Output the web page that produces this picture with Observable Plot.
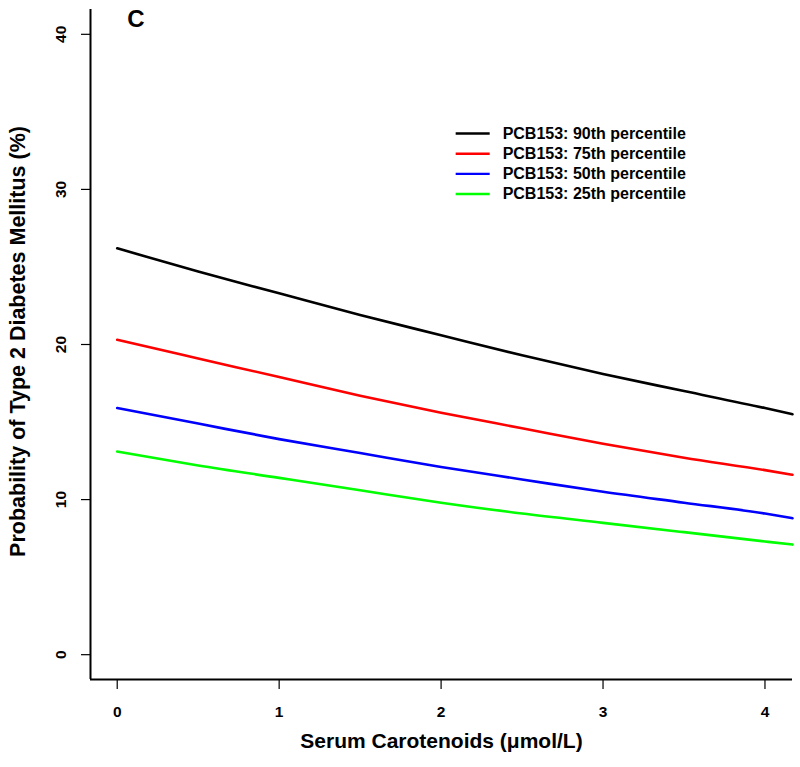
<!DOCTYPE html>
<html>
<head>
<meta charset="utf-8">
<script src="https://cdn.jsdelivr.net/npm/d3@7"></script>
<script src="https://cdn.jsdelivr.net/npm/@observablehq/plot@0.6"></script>
<style>
  html, body { margin: 0; padding: 0; background: #fff; }
  #chart { width: 800px; height: 767px; }
</style>
</head>
<body>
<div id="chart"></div>
<script>
// ---- Data ----
const carotenoids = [0, 0.5, 1, 1.5, 2, 2.5, 3, 3.5, 4, 4.17];
const p90 = [26.2, 24.7, 23.3, 21.9, 20.6, 19.3, 18.1, 17.0, 15.9, 15.5];
const p75 = [20.3, 19.1, 17.9, 16.7, 15.6, 14.6, 13.6, 12.7, 11.9, 11.6];
const p50 = [15.9, 14.9, 13.9, 13.0, 12.1, 11.3, 10.5, 9.8, 9.1, 8.8];
const p25 = [13.1, 12.2, 11.4, 10.6, 9.8, 9.1, 8.5, 7.9, 7.3, 7.1];
const seriesNames = ["PCB153: 90th percentile", "PCB153: 75th percentile", "PCB153: 50th percentile", "PCB153: 25th percentile"];
const seriesColors = ["#000000", "#ff0000", "#0000ff", "#00ff00"];
const xTicks = [0, 1, 2, 3, 4];
const yTicks = [0, 10, 20, 30, 40];
const panelLabel = "C";
const xTitle = "Serum Carotenoids (\u03bcmol/L)";
const yTitle = "Probability of Type 2 Diabetes Mellitus (%)";
// legend placement in data coordinates (as R's legend(x, y))
const legendLineX = [2.09, 2.30];
const legendTextX = 2.38;
const legendY = [33.6, 32.3, 31.0, 29.7];

// ---- Build tables ----
const allSeries = [p90, p75, p50, p25];
const rows = [];
allSeries.forEach((vals, si) => {
  vals.forEach((v, i) => rows.push({x: carotenoids[i], y: v, s: seriesNames[si]}));
});
const legendRows = seriesNames.map((n, i) => ({name: n, color: seriesColors[i], y: legendY[i]}));

const font = "'Liberation Sans', Arial, sans-serif";
const xDomain = [-0.165, 4.17];
const yDomain = [-1.6, 41.6];

const chart = Plot.plot({
  width: 800,
  height: 767,
  marginLeft: 90,
  marginRight: 8,
  marginTop: 9,
  marginBottom: 88,
  style: {fontFamily: font, background: "#fff", color: "#000"},
  x: {domain: xDomain},
  y: {domain: yDomain},
  color: {domain: seriesNames, range: seriesColors},
  marks: [
    // axis lines (L-shaped box)
    Plot.ruleX([xDomain[0]], {stroke: "#000", strokeWidth: 2}),
    Plot.ruleY([yDomain[0]], {stroke: "#000", strokeWidth: 2}),
    // x axis
    Plot.axisX({ticks: xTicks, tickSize: 10, tickPadding: 16, tickFormat: d => String(d), label: null,
      fontSize: 15.5, fontWeight: "bold", stroke: "#000", strokeWidth: 1.2}),
    // y axis ticks
    Plot.axisY({ticks: yTicks, tickSize: 9, tickFormat: () => "", label: null, stroke: "#000", strokeWidth: 1.2}),
    // y tick labels rotated
    Plot.text(yTicks, {y: d => d, text: d => String(d), frameAnchor: "left", dx: -29, rotate: -90,
      textAnchor: "middle", fontSize: 15.5, fontWeight: "bold", fill: "#000"}),
    // series lines
    Plot.line(rows, {x: "x", y: "y", z: "s", stroke: "s", strokeWidth: 2.6, curve: "monotone-x"}),
    // legend
    Plot.link(legendRows, {x1: () => legendLineX[0], x2: () => legendLineX[1], y1: "y", y2: "y",
      stroke: "color", strokeWidth: 2.4}),
    Plot.text(legendRows, {x: () => legendTextX, y: "y", text: "name", textAnchor: "start",
      fontSize: 16, fontWeight: "bold", fill: "#000"}),
    // panel label
    Plot.text([panelLabel], {x: () => 0.115, y: () => 40.95, text: d => d, fontSize: 24, fontWeight: "bold", fill: "#000"}),
    // axis titles
    Plot.text([xTitle], {frameAnchor: "bottom", dy: 68, textAnchor: "middle", text: d => d, fontSize: 21, fontWeight: "bold", fill: "#000"}),
    Plot.text([yTitle], {frameAnchor: "left", dx: -72, dy: -3, rotate: -90, textAnchor: "middle", text: d => d, fontSize: 21.5, fontWeight: "bold", fill: "#000"})
  ]
});
document.getElementById("chart").appendChild(chart);
</script>
</body>
</html>
